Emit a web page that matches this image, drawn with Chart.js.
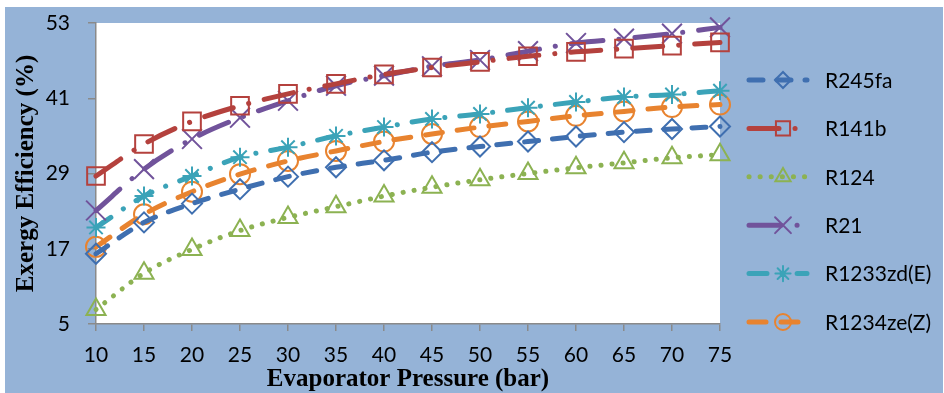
<!DOCTYPE html>
<html>
<head>
<meta charset="utf-8">
<script src="https://cdn.jsdelivr.net/npm/chart.js@4.4.1/dist/chart.umd.min.js"></script>
<style>
  html, body { margin: 0; padding: 0; background: #fff; }
  #wrap { width: 944px; height: 393px; }
</style>
</head>
<body>
<div id="wrap"><canvas id="myChart" width="944" height="393"></canvas></div>
<script>
// evaporator pressure (bar)
const pressure = [10, 15, 20, 25, 30, 35, 40, 45, 50, 55, 60, 65, 70, 75];
const yTicks = [5, 17, 29, 41, 53];

// exergy efficiency (%) per fluid
const r245fa = [16.2, 21.2, 24.2, 26.5, 28.5, 30.0, 31.1, 32.4, 33.3, 34.1, 34.9, 35.6, 36.1, 36.5];
const r141b = [28.6, 33.7, 37.3, 39.8, 41.7, 43.3, 44.8, 45.9, 46.8, 47.7, 48.4, 48.9, 49.4, 49.9];
const r124 = [7.3, 13.1, 16.9, 19.9, 22.0, 23.7, 25.4, 26.8, 28.0, 29.0, 29.9, 30.7, 31.5, 32.0];
const r21 = [23.1, 29.7, 34.5, 37.9, 40.6, 43.0, 44.6, 46.1, 47.1, 48.5, 49.8, 50.5, 51.3, 52.3];
const r1233zd = [20.4, 25.4, 28.6, 31.6, 33.2, 35.0, 36.4, 37.7, 38.5, 39.5, 40.4, 41.2, 41.6, 42.2];
const r1234ze = [17.3, 22.5, 26.1, 28.9, 31.0, 32.6, 34.1, 35.3, 36.4, 37.3, 38.2, 38.9, 39.6, 40.0];

function series(label, values, color, dash, style, radius) {
  return {
    label: label,
    data: values.map((v, i) => ({ x: pressure[i], y: v })),
    borderColor: color,
    backgroundColor: color,
    borderWidth: 5,
    borderDash: dash,
    borderCapStyle: 'round',
    cubicInterpolationMode: 'monotone',
    clip: false,
    pointStyle: style,
    pointRadius: radius,
    pointHoverRadius: radius,
    pointBorderColor: color,
    pointBackgroundColor: 'rgba(0,0,0,0)',
    pointBorderWidth: 2
  };
}

const datasets = [
  series('R245fa', r245fa, '#3f6fb0', [14, 14], 'rectRot', 10),
  series('R141b', r141b, '#b4413d', [30, 16, 0.1, 16], 'rect', 12.5),
  series('R124', r124, '#8cb252', [0.1, 11], 'triangle', 11),
  series('R21', r21, '#71539b', [32, 16, 0.1, 16], 'crossRot', 14),
  series('R1233zd(E)', r1233zd, '#3ba3b8', [18, 15, 0.1, 15], 'star', 9.5),
  series('R1234ze(Z)', r1234ze, '#e8832f', [17, 15], 'circle', 10)
];

const backdrop = {
  id: 'backdrop',
  beforeDraw(chart) {
    const ctx = chart.ctx;
    const a = chart.chartArea;
    ctx.save();
    ctx.fillStyle = '#ffffff';
    ctx.fillRect(0, 0, chart.width, chart.height);
    ctx.fillStyle = '#95b3d7';
    ctx.fillRect(5, 7, chart.width - 6, chart.height - 7);
    ctx.fillStyle = '#ffffff';
    ctx.fillRect(a.left, a.top, a.right - a.left, a.bottom - a.top);
    ctx.restore();
  }
};

const sideLegend = {
  id: 'sideLegend',
  afterDraw(chart) {
    const ctx = chart.ctx;
    chart.data.datasets.forEach((ds, i) => {
      const y = 80 + i * 48.4;
      ctx.save();
      ctx.strokeStyle = ds.borderColor;
      ctx.lineWidth = 5;
      ctx.lineCap = 'round';
      ctx.setLineDash(ds.borderDash);
      ctx.beginPath();
      ctx.moveTo(749, y);
      ctx.lineTo(807, y);
      ctx.stroke();
      ctx.setLineDash([]);
      ctx.strokeStyle = ds.pointBorderColor;
      ctx.fillStyle = 'rgba(0,0,0,0)';
      ctx.lineWidth = 2;
      Chart.helpers.drawPoint(ctx, {
        pointStyle: ds.pointStyle,
        radius: ds.pointRadius * 0.8,
        borderWidth: 2
      }, 783, y);
      ctx.fillStyle = '#000';
      ctx.font = '21px Lato';
      ctx.textBaseline = 'middle';
      ctx.fillText(ds.label, 825, y + 1);
      ctx.restore();
    });
  }
};

const ctx = document.getElementById('myChart').getContext('2d');
const myChart = new Chart(ctx, {
  type: 'line',
  data: { datasets: datasets },
  options: {
    responsive: false,
    animation: false,
    layout: { autoPadding: false, padding: { left: 0, top: 23, right: 224, bottom: 0 } },
    plugins: {
      legend: { display: false },
      tooltip: { enabled: false }
    },
    scales: {
      x: {
        type: 'linear',
        min: 10,
        max: 75,
        afterFit: (s) => { s.height = 69; },
        afterBuildTicks: (s) => { s.ticks = pressure.map(v => ({ value: v })); },
        grid: { drawOnChartArea: false, drawTicks: true, tickLength: 7, color: '#8a8a8a', lineWidth: 1.5 },
        border: { color: '#8a8a8a', width: 1.5 },
        ticks: { color: '#000', font: { family: 'Lato', size: 21 }, padding: 12, maxRotation: 0, autoSkip: false },
        title: {
          display: true,
          text: 'Evaporator Pressure (bar)',
          color: '#000',
          font: { family: 'Liberation Serif', size: 25, weight: 'bold' },
          padding: { top: 0, bottom: -2 }
        }
      },
      y: {
        min: 5,
        max: 53,
        // the label padding would otherwise push the plot top down
        afterFit: (s) => { s.width = 96; s.paddingTop = 12; s.paddingBottom = 12; },
        afterBuildTicks: (s) => { s.ticks = yTicks.map(v => ({ value: v })); },
        grid: { drawOnChartArea: false, drawTicks: true, tickLength: 8, color: '#8a8a8a', lineWidth: 1.5 },
        border: { color: '#8a8a8a', width: 1.5 },
        ticks: { color: '#000', font: { family: 'Lato', size: 21 }, padding: 18 },
        title: {
          display: true,
          text: 'Exergy Efficiency (%)',
          color: '#000',
          font: { family: 'Liberation Serif', size: 25, weight: 'bold' },
          padding: { top: 12, bottom: 0 }
        }
      }
    }
  },
  plugins: [backdrop, sideLegend]
});
</script>
</body>
</html>
